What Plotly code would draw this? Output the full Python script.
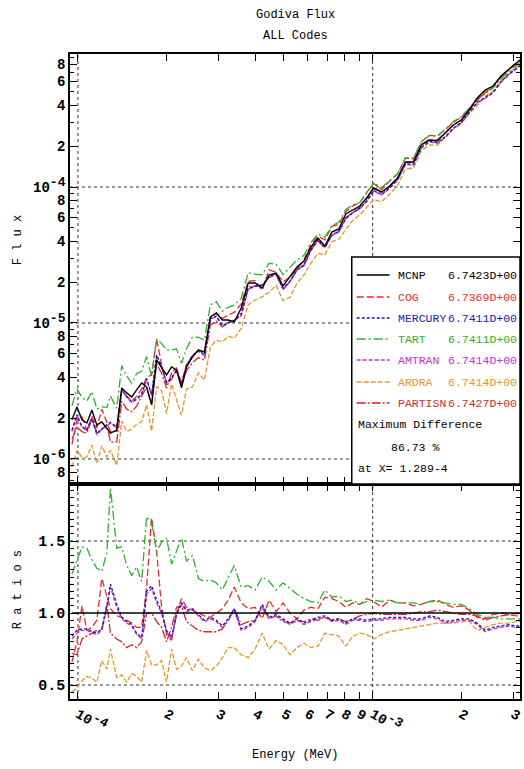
import plotly.graph_objects as go

# ---------------- data ----------------
energy = [9.54e-5, 9.92e-5, 1.032e-4, 1.072e-4, 1.115e-4, 1.159e-4, 1.205e-4, 1.253e-4, 1.289e-4, 1.354e-4,
          1.408e-4, 1.464e-4, 1.522e-4, 1.582e-4, 1.645e-4, 1.710e-4, 1.778e-4, 1.849e-4, 1.922e-4, 1.998e-4,
          2.078e-4, 2.160e-4, 2.246e-4, 2.335e-4, 2.446e-4, 2.563e-4, 2.686e-4, 2.814e-4, 2.948e-4, 3.089e-4,
          3.236e-4, 3.391e-4, 3.581e-4, 3.781e-4, 3.993e-4, 4.217e-4, 4.453e-4, 4.702e-4, 4.966e-4, 5.243e-4,
          5.537e-4, 5.847e-4, 6.174e-4, 6.520e-4, 6.885e-4, 7.270e-4, 7.677e-4, 8.107e-4, 8.560e-4, 9.040e-4,
          9.546e-4, 1.0078e-3, 1.0725e-3, 1.1413e-3, 1.2146e-3, 1.2925e-3, 1.3754e-3, 1.4639e-3, 1.5579e-3, 1.6580e-3,
          1.7644e-3, 1.8776e-3, 1.9984e-3, 2.1266e-3, 2.2630e-3, 2.4083e-3, 2.5630e-3, 2.7276e-3, 2.9028e-3, 3.0653e-3,
          3.1623e-3]

mcnp_flux = [1.94e-6, 2.41e-6, 1.94e-6, 1.84e-6, 2.29e-6, 1.78e-6, 1.87e-6, 1.69e-6, 1.55e-6, 1.63e-6,
             3.33e-6, 3.06e-6, 2.86e-6, 3.22e-6, 3.62e-6, 3.38e-6, 2.50e-6, 5.34e-6, 4.75e-6, 4.15e-6,
             4.75e-6, 4.51e-6, 3.33e-6, 4.75e-6, 5.62e-6, 6.33e-6, 6.12e-6, 1.107e-5, 1.185e-5, 1.052e-5,
             1.052e-5, 1.017e-5, 1.289e-5, 1.968e-5, 1.968e-5, 1.809e-5, 2.254e-5, 2.331e-5, 1.871e-5, 2.179e-5,
             2.581e-5, 2.857e-5, 3.621e-5, 4.217e-5, 3.683e-5, 4.668e-5, 4.911e-5, 6.329e-5, 6.773e-5, 7.249e-5,
             8.300e-5, 9.831e-5, 9.188e-5, 1.017e-4, 1.165e-4, 1.527e-4, 1.527e-4, 2.036e-4, 2.216e-4, 2.179e-4,
             2.495e-4, 2.857e-4, 3.109e-4, 3.683e-4, 4.512e-4, 5.166e-4, 5.527e-4, 6.549e-4, 7.372e-4, 8.162e-4,
             8.586e-4]

# ratios code / MCNP
cog_ratio = [0.66, 0.80, 1.05, 0.88, 0.90, 0.95, 1.24, 1.12, 1.03, 0.98,
             0.97, 0.95, 0.93, 0.90, 0.90, 1.18, 1.66, 1.43, 1.04, 0.85,
             0.81, 0.99, 1.10, 1.04, 1.02, 1.00, 0.98, 0.97, 1.00, 1.03,
             1.09, 1.18, 1.07, 1.03, 1.04, 0.96, 1.09, 1.01, 1.07, 1.00,
             0.96, 1.02, 1.04, 1.03, 1.11, 1.10, 1.08, 1.04, 1.07, 1.06,
             1.10, 1.08, 1.04, 1.09, 1.07, 1.07, 1.05, 1.06, 1.08, 1.09,
             1.06, 1.04, 1.05, 1.02, 0.97, 0.96, 0.99, 1.00, 0.99, 0.98,
             0.98]
mercury_ratio = [0.84, 0.88, 0.89, 0.89, 0.87, 0.86, 0.89, 1.05, 1.20, 1.06,
                 0.97, 0.94, 0.92, 0.86, 0.83, 1.15, 1.19, 1.09, 1.01, 0.88,
                 0.83, 1.00, 1.07, 1.02, 1.03, 0.99, 0.95, 0.97, 0.95, 0.91,
                 0.96, 1.03, 0.89, 0.91, 0.95, 1.06, 0.97, 0.99, 0.96, 0.93,
                 0.96, 0.93, 0.95, 0.97, 0.98, 0.95, 0.96, 0.93, 0.96, 0.96,
                 0.95, 0.96, 0.96, 0.97, 0.97, 0.97, 0.96, 0.96, 0.98, 0.97,
                 0.94, 0.95, 0.96, 0.96, 0.93, 0.88, 0.90, 0.91, 0.92, 0.91,
                 0.91]
tart_ratio = [1.27, 1.36, 1.46, 1.45, 1.37, 1.31, 1.29, 1.42, 1.87, 1.45,
              1.46, 1.33, 1.26, 1.32, 1.22, 1.67, 1.62, 1.43, 1.49, 1.52,
              1.34, 1.43, 1.52, 1.36, 1.40, 1.24, 1.22, 1.23, 1.21, 1.16,
              1.24, 1.33, 1.18, 1.19, 1.16, 1.25, 1.22, 1.16, 1.21, 1.17,
              1.13, 1.10, 1.08, 1.07, 1.16, 1.11, 1.12, 1.08, 1.09, 1.06,
              1.08, 1.09, 1.08, 1.09, 1.07, 1.07, 1.07, 1.06, 1.08, 1.08,
              1.07, 1.06, 1.06, 1.03, 0.99, 0.97, 0.97, 0.96, 0.96, 0.96,
              0.96]
amtran_ratio = [0.82, 0.86, 0.88, 0.88, 0.86, 0.85, 0.88, 1.03, 1.18, 1.04,
                0.96, 0.93, 0.91, 0.85, 0.82, 1.13, 1.17, 1.07, 1.00, 0.87,
                0.82, 0.99, 1.06, 1.01, 1.02, 0.98, 0.94, 0.96, 0.94, 0.90,
                0.95, 1.02, 0.88, 0.90, 0.94, 1.05, 0.96, 0.98, 0.95, 0.92,
                0.95, 0.92, 0.94, 0.96, 0.97, 0.94, 0.95, 0.92, 0.95, 0.95,
                0.94, 0.95, 0.95, 0.96, 0.96, 0.96, 0.95, 0.95, 0.97, 0.96,
                0.93, 0.94, 0.95, 0.95, 0.92, 0.87, 0.89, 0.90, 0.91, 0.90,
                0.90]
ardra_ratio = [0.45, 0.48, 0.53, 0.56, 0.55, 0.52, 0.67, 0.61, 0.75, 0.55,
               0.57, 0.52, 0.58, 0.56, 0.52, 0.74, 0.64, 0.64, 0.67, 0.52,
               0.75, 0.61, 0.63, 0.69, 0.60, 0.68, 0.62, 0.60, 0.63, 0.69,
               0.76, 0.76, 0.71, 0.69, 0.75, 0.86, 0.75, 0.81, 0.78, 0.71,
               0.76, 0.79, 0.76, 0.77, 0.86, 0.85, 0.84, 0.77, 0.84, 0.86,
               0.85, 0.82, 0.85, 0.87, 0.88, 0.89, 0.90, 0.91, 0.92, 0.93,
               0.93, 0.93, 0.94, 0.94, 0.88, 0.90, 0.92, 0.93, 0.93, 0.94,
               0.94]
partisn_ratio = [0.72, 0.71, 0.82, 0.84, 0.86, 0.88, 0.88, 1.06, 0.86, 0.82,
                 0.80, 0.76, 0.78, 0.76, 0.80, 1.00, 1.00, 0.94, 0.90, 0.80,
                 0.90, 1.04, 1.05, 0.94, 0.91, 0.88, 0.87, 0.87, 0.87, 0.89,
                 0.95, 1.03, 0.92, 0.94, 0.95, 1.04, 0.96, 0.98, 0.94, 0.93,
                 0.95, 0.94, 0.96, 0.95, 0.97, 0.95, 0.96, 0.94, 0.96, 0.98,
                 0.99, 1.00, 0.99, 0.99, 0.99, 0.99, 1.00, 1.01, 1.01, 1.02,
                 1.01, 1.00, 0.99, 0.99, 0.98, 0.95, 0.97, 0.98, 0.99, 1.00,
                 1.00]

codes = ["MCNP", "COG", "MERCURY", "TART", "AMTRAN", "ARDRA", "PARTISN"]
integrals = ["6.7423D+00", "6.7369D+00", "6.7411D+00", "6.7411D+00", "6.7414D+00", "6.7414D+00", "6.7427D+00"]
max_diff_text = ["Maximum Difference", "86.73 %", "at X= 1.289-4"]

SUP = '<sup><span style="font-size:13px">%s</span></sup>'
x_tickvals = [1e-4, 2e-4, 3e-4, 4e-4, 5e-4, 6e-4, 7e-4, 8e-4, 9e-4, 1e-3, 2e-3, 3e-3]
x_ticktext = ["10" + SUP % "-4", "2", "3", "4", "5", "6", "7", "8", "9", "10" + SUP % "-3", "2", "3"]
flux_tickvals = [8e-7, 1e-6, 2e-6, 4e-6, 6e-6, 8e-6, 1e-5, 2e-5, 4e-5, 6e-5, 8e-5, 1e-4, 2e-4, 4e-4, 6e-4, 8e-4]
flux_ticktext = ["8", "10" + SUP % "-6", "2", "4", "6", "8", "10" + SUP % "-5", "2", "4", "6", "8",
                 "10" + SUP % "-4", "2", "4", "6", "8"]
flux_minor = [7e-7, 9e-7, 3e-6, 5e-6, 7e-6, 9e-6, 3e-5, 5e-5, 7e-5, 9e-5, 3e-4, 5e-4, 7e-4, 9e-4]
ratio_tickvals = [0.5, 1.0, 1.5]
ratio_ticktext = ["0.5", "1.0", "1.5"]
grid_energy = [1e-4, 1e-3]
grid_flux = [1e-6, 1e-5, 1e-4]
grid_ratio = [0.5, 1.5]

# ---------------- styles ----------------
FONT = "Liberation Mono, DejaVu Sans Mono, monospace"
colors = {"MCNP": "#000000", "COG": "#f02828", "MERCURY": "#1a1ab4", "TART": "#2ab42a",
          "AMTRAN": "#d22ad2", "ARDRA": "#e8962a", "PARTISN": "#d22828"}
dashes = {"MCNP": "solid", "COG": "7px,3px", "MERCURY": "3px,2px", "TART": "9px,3px,2px,3px",
          "AMTRAN": "4px,2px", "ARDRA": "5px,2px", "PARTISN": "9px,2px,2px,2px"}

ratios = {"COG": cog_ratio, "MERCURY": mercury_ratio, "TART": tart_ratio, "AMTRAN": amtran_ratio,
          "ARDRA": ardra_ratio, "PARTISN": partisn_ratio}
for k, v in ratios.items():
    assert len(v) == len(energy), k
assert len(mcnp_flux) == len(energy)

fig = go.Figure()
draw_order = ["ARDRA", "PARTISN", "COG", "TART", "AMTRAN", "MERCURY"]
for name in draw_order:
    r = ratios[name]
    flux = [m * q for m, q in zip(mcnp_flux, r)]
    fig.add_trace(go.Scatter(x=energy, y=flux, mode="lines", name=name, xaxis="x", yaxis="y",
                             line=dict(color=colors[name], width=1.3, dash=dashes[name]), showlegend=False))
    fig.add_trace(go.Scatter(x=energy, y=r, mode="lines", name=name, xaxis="x2", yaxis="y2",
                             line=dict(color=colors[name], width=1.3, dash=dashes[name]), showlegend=False))
fig.add_trace(go.Scatter(x=energy, y=mcnp_flux, mode="lines", name="MCNP", xaxis="x", yaxis="y",
                         line=dict(color="black", width=1.4), showlegend=False))
fig.add_trace(go.Scatter(x=energy, y=[m / m for m in mcnp_flux], mode="lines", name="MCNP", xaxis="x2", yaxis="y2",
                         line=dict(color="black", width=1.4), showlegend=False))

tickfont = dict(family=FONT, size=14, color="black", weight="bold")
xcommon = dict(type="log", range=[-4.027, -2.5], domain=[0, 1], showline=True, linecolor="black", linewidth=1.5,
               mirror="allticks", ticks="inside", ticklen=7, tickwidth=1, tickcolor="black",
               showgrid=False, zeroline=False, tickvals=x_tickvals, ticktext=x_ticktext, tickfont=tickfont)
split = 215 / 645
fig.update_layout(
    xaxis=dict(xcommon, anchor="y", showticklabels=False),
    yaxis=dict(type="log", range=[-6.184, -3.022], domain=[split, 1], anchor="x", showline=True,
               linecolor="black", linewidth=1.5, mirror="allticks", ticks="inside", ticklen=7, tickcolor="black",
               showgrid=False, zeroline=False, tickvals=flux_tickvals, ticktext=flux_ticktext, tickfont=tickfont,
               minor=dict(tickvals=flux_minor, ticks="inside", ticklen=4, tickcolor="black", showgrid=False)),
    xaxis2=dict(xcommon, anchor="y2"),
    yaxis2=dict(range=[0.403, 1.896], domain=[0, split], anchor="x2", showline=True, linecolor="black",
                linewidth=1.5, mirror="allticks", ticks="inside", ticklen=7, tickcolor="black",
                showgrid=False, zeroline=False, tickvals=ratio_tickvals, ticktext=ratio_ticktext,
                tickfont=dict(family=FONT, size=15, color="black", weight="bold"),
                minor=dict(dtick=0.05, ticks="inside", ticklen=4, tickcolor="black", showgrid=False)),
    width=524, height=769, margin=dict(l=70, r=2, t=54, b=70),
    paper_bgcolor="white", plot_bgcolor="white", showlegend=False,
)

# dotted grid at decades
shapes = []
dot = dict(color="#333333", width=1, dash="dot")
for e in grid_energy:
    shapes.append(dict(type="line", xref="x", yref="y domain", x0=e, x1=e, y0=0, y1=1, line=dot, layer="below"))
    shapes.append(dict(type="line", xref="x2", yref="y2 domain", x0=e, x1=e, y0=0, y1=1, line=dot, layer="below"))
for f in grid_flux:
    shapes.append(dict(type="line", xref="x domain", yref="y", x0=0, x1=1, y0=f, y1=f, line=dot, layer="below"))
for q in grid_ratio:
    shapes.append(dict(type="line", xref="x2 domain", yref="y2", x0=0, x1=1, y0=q, y1=q, line=dot, layer="below"))

# legend box (paper coordinates)
PW, PH, L, B = 452.0, 645.0, 70.0, 699.0
def px(x):
    return (x - L) / PW
def py(y):
    return (B - y) / PH

shapes.append(dict(type="rect", xref="paper", yref="paper", x0=px(353), x1=1.0, y0=py(484), y1=py(257),
                   line=dict(color="black", width=1.5), fillcolor="white", layer="above"))
annotations = []
lfont = 11.5
row_y = [275, 297, 318, 339, 360, 382, 403]
for name, val, yy in zip(codes, integrals, row_y):
    shapes.append(dict(type="line", xref="paper", yref="paper", x0=px(358), x1=px(391), y0=py(yy), y1=py(yy),
                       line=dict(color=colors[name], width=1.3, dash=dashes[name]), layer="above"))
    annotations.append(dict(text=name, xref="paper", yref="paper", x=px(397), y=py(yy), xanchor="left",
                            yanchor="middle", showarrow=False, font=dict(family=FONT, size=lfont, color=colors[name])))
    annotations.append(dict(text=val, xref="paper", yref="paper", x=px(448), y=py(yy), xanchor="left",
                            yanchor="middle", showarrow=False, font=dict(family=FONT, size=lfont, color=colors[name])))
for txt, xx, yy in zip(max_diff_text, [357, 390, 357], [424, 447, 468]):
    annotations.append(dict(text=txt, xref="paper", yref="paper", x=px(xx), y=py(yy), xanchor="left",
                            yanchor="middle", showarrow=False, font=dict(family=FONT, size=lfont, color="black")))

# titles
tfont = dict(family=FONT, size=12, color="black")
annotations.append(dict(text="Godiva Flux", xref="paper", yref="paper", x=0.5, y=py(15), xanchor="center",
                        yanchor="middle", showarrow=False, font=tfont))
annotations.append(dict(text="ALL Codes", xref="paper", yref="paper", x=0.5, y=py(36), xanchor="center",
                        yanchor="middle", showarrow=False, font=tfont))
annotations.append(dict(text="Energy (MeV)", xref="paper", yref="paper", x=0.5, y=py(755), xanchor="center",
                        yanchor="middle", showarrow=False, font=tfont))
annotations.append(dict(text="F l u x", xref="paper", yref="paper", x=px(18), y=py(240), xanchor="center",
                        yanchor="middle", showarrow=False, textangle=-90, font=tfont))
annotations.append(dict(text="R a t i o s", xref="paper", yref="paper", x=px(18), y=py(590), xanchor="center",
                        yanchor="middle", showarrow=False, textangle=-90, font=tfont))

fig.update_layout(shapes=shapes, annotations=annotations)
fig.write_html("out.html")
